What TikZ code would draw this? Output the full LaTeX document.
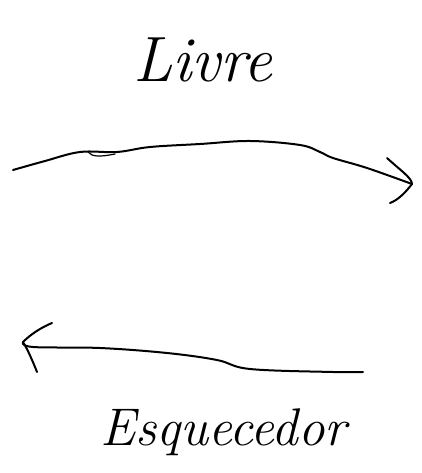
\documentclass[tikz,border=0pt]{standalone}
\begin{document}
\begin{tikzpicture}[x=1pt,y=-1pt,
  stroke/.style={line width=2pt,line cap=round,line join=round,black},
  label/.style={inner sep=0pt,font=\itshape}]
\useasboundingbox (0,0) rectangle (422,473);
% labels
\node[label,anchor=base west,font=\fontsize{64}{64}\selectfont\itshape] (livre) at (133,82) {Livre};
\node[label,anchor=base west,font=\fontsize{53}{53}\selectfont\itshape] (esq) at (100,445) {Esquecedor};
% top arrow
\coordinate (t0) at (13,170);
\coordinate (t1) at (412,184);
\draw[stroke] plot[smooth,tension=0.6] coordinates {(13,170) (45,161) (80,152) (117,152) (150,147) (200,144) (250,141) (300,145) (320,152) (333,158) (367,168) (412,184)};
\draw[stroke,line width=1.2pt] (88,152) .. controls (92,157) and (100,157) .. (115,154);
\draw[stroke] (387,158) .. controls (400,170) and (412,178) .. (t1) .. controls (405,193) and (398,200) .. (390,203);
% bottom arrow
\coordinate (b0) at (363,372);
\coordinate (b1) at (23,342);
\draw[stroke] plot[smooth,tension=0.6] coordinates {(363,372) (333,372) (250,369) (217,360) (167,353) (100,348) (33,347) (23,342)};
\draw[stroke] (52,323) .. controls (40,328) and (30,335) .. (b1) .. controls (28,350) and (33,362) .. (37,372);
\end{tikzpicture}
\end{document}
